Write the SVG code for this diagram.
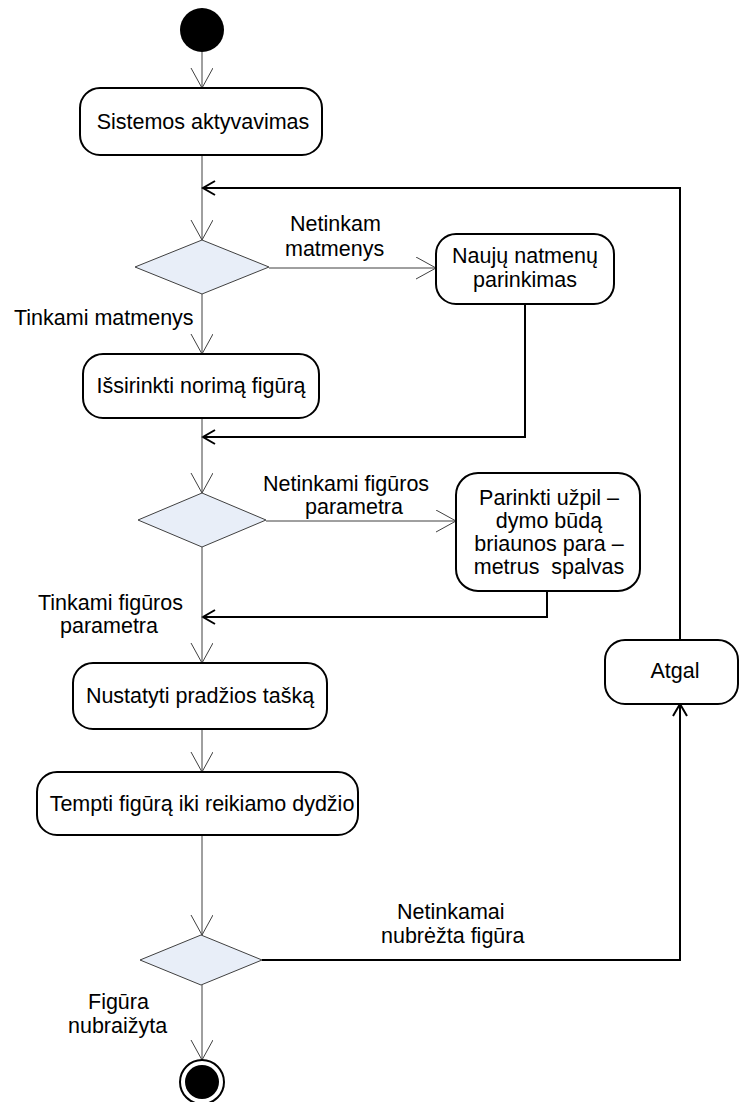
<svg xmlns="http://www.w3.org/2000/svg" width="740" height="1102" viewBox="0 0 740 1102">
  <style>
    .act { fill: #ffffff; stroke: #000000; stroke-width: 2; }
    .dec { fill: #e8eef8; stroke: #404040; stroke-width: 1; }
    .flow { fill: none; stroke: #404040; stroke-width: 1; }
    .back { fill: none; stroke: #000000; stroke-width: 2; }
    text { font-family: "Liberation Sans", Arial, sans-serif; font-size: 21.5px; fill: #000000; }
    .c { text-anchor: middle; }
  </style>
  <defs>
    <marker id="open" markerUnits="userSpaceOnUse" markerWidth="22" markerHeight="24" refX="20" refY="11" orient="auto">
      <path d="M0,0 L20,11 L0,22" fill="none" stroke="#404040" stroke-width="1"/>
    </marker>
    <marker id="openBold" markerUnits="userSpaceOnUse" markerWidth="16" markerHeight="18" refX="13" refY="8" orient="auto">
      <path d="M1,1 L13,8 L1,15" fill="none" stroke="#000000" stroke-width="2"/>
    </marker>
  </defs>

  <!-- connectors -->
  <g id="connectors">
    <line class="flow" x1="202" y1="52" x2="202" y2="88" marker-end="url(#open)"/>
    <line class="flow" x1="202" y1="155" x2="202" y2="240" marker-end="url(#open)"/>
    <polyline class="back" points="680,640 680,188 203,188" marker-end="url(#openBold)"/>
    <line class="flow" x1="269" y1="268" x2="436" y2="268" marker-end="url(#open)"/>
    <line class="flow" x1="202" y1="294" x2="202" y2="354" marker-end="url(#open)"/>
    <polyline class="back" points="525,304 525,437 203,437" marker-end="url(#openBold)"/>
    <line class="flow" x1="202" y1="418" x2="202" y2="493" marker-end="url(#open)"/>
    <line class="flow" x1="266" y1="521" x2="456" y2="521" marker-end="url(#open)"/>
    <polyline class="back" points="547,591 547,617 203,617" marker-end="url(#openBold)"/>
    <line class="flow" x1="202" y1="547" x2="202" y2="663" marker-end="url(#open)"/>
    <line class="flow" x1="202" y1="729" x2="202" y2="772" marker-end="url(#open)"/>
    <line class="flow" x1="202" y1="835" x2="202" y2="935" marker-end="url(#open)"/>
    <polyline class="back" points="262,960 680,960 680,704" marker-end="url(#openBold)"/>
    <line class="flow" x1="202" y1="985" x2="202" y2="1060" marker-end="url(#open)"/>
  </g>

  <!-- flow labels -->
  <g id="labels">
    <text x="290" y="231">Netinkam</text>
    <text x="285" y="256">matmenys</text>
    <text x="14" y="325">Tinkami matmenys</text>
    <text x="263" y="491">Netinkami figūros</text>
    <text x="305" y="514">parametra</text>
    <text x="38" y="610">Tinkami figūros</text>
    <text x="60" y="633">parametra</text>
    <text x="397" y="919">Netinkamai</text>
    <text x="381" y="943">nubrėžta figūra</text>
    <text x="88" y="1009">Figūra</text>
    <text x="68" y="1033">nubraižyta</text>
  </g>

  <g id="start">
    <circle cx="202" cy="30" r="22" fill="#000000"/>
  </g>

  <g id="sistemos-aktyvavimas">
    <rect class="act" x="80" y="88" width="242" height="67" rx="20"/>
    <text class="c" x="203" y="129">Sistemos aktyvavimas</text>
  </g>

  <g id="decision-1">
    <polygon class="dec" points="202,240 269,267 202,294 135,267"/>
  </g>

  <g id="nauju-matmenu">
    <rect class="act" x="436" y="234" width="178" height="70" rx="20"/>
    <text class="c" x="525" y="263">Naujų natmenų</text>
    <text class="c" x="525" y="287">parinkimas</text>
  </g>

  <g id="issirinkti-figura">
    <rect class="act" x="83" y="354" width="236" height="64" rx="20"/>
    <text class="c" x="201" y="393">Išsirinkti norimą figūrą</text>
  </g>

  <g id="decision-2">
    <polygon class="dec" points="202,493 266,520 202,547 138,520"/>
  </g>

  <g id="parinkti-uzpildyma">
    <rect class="act" x="456" y="473" width="184" height="118" rx="22"/>
    <text class="c" x="549" y="505">Parinkti užpil –</text>
    <text class="c" x="549" y="528">dymo būdą</text>
    <text class="c" x="549" y="551">briaunos para –</text>
    <text class="c" x="549" y="574" xml:space="preserve">metrus  spalvas</text>
  </g>

  <g id="nustatyti-taska">
    <rect class="act" x="73" y="663" width="254" height="66" rx="20"/>
    <text class="c" x="200" y="703">Nustatyti pradžios tašką</text>
  </g>

  <g id="atgal">
    <rect class="act" x="605" y="640" width="133" height="64" rx="20"/>
    <text class="c" x="675" y="678">Atgal</text>
  </g>

  <g id="tempti-figura">
    <rect class="act" x="37" y="772" width="321" height="63" rx="20"/>
    <text class="c" x="202" y="811">Tempti figūrą iki reikiamo dydžio</text>
  </g>

  <g id="decision-3">
    <polygon class="dec" points="201,935 262,960 201,985 140,960"/>
  </g>

  <g id="end">
    <circle cx="202" cy="1082" r="22" fill="#ffffff" stroke="#000000" stroke-width="2"/>
    <circle cx="202" cy="1082" r="17" fill="#000000"/>
  </g>
</svg>
